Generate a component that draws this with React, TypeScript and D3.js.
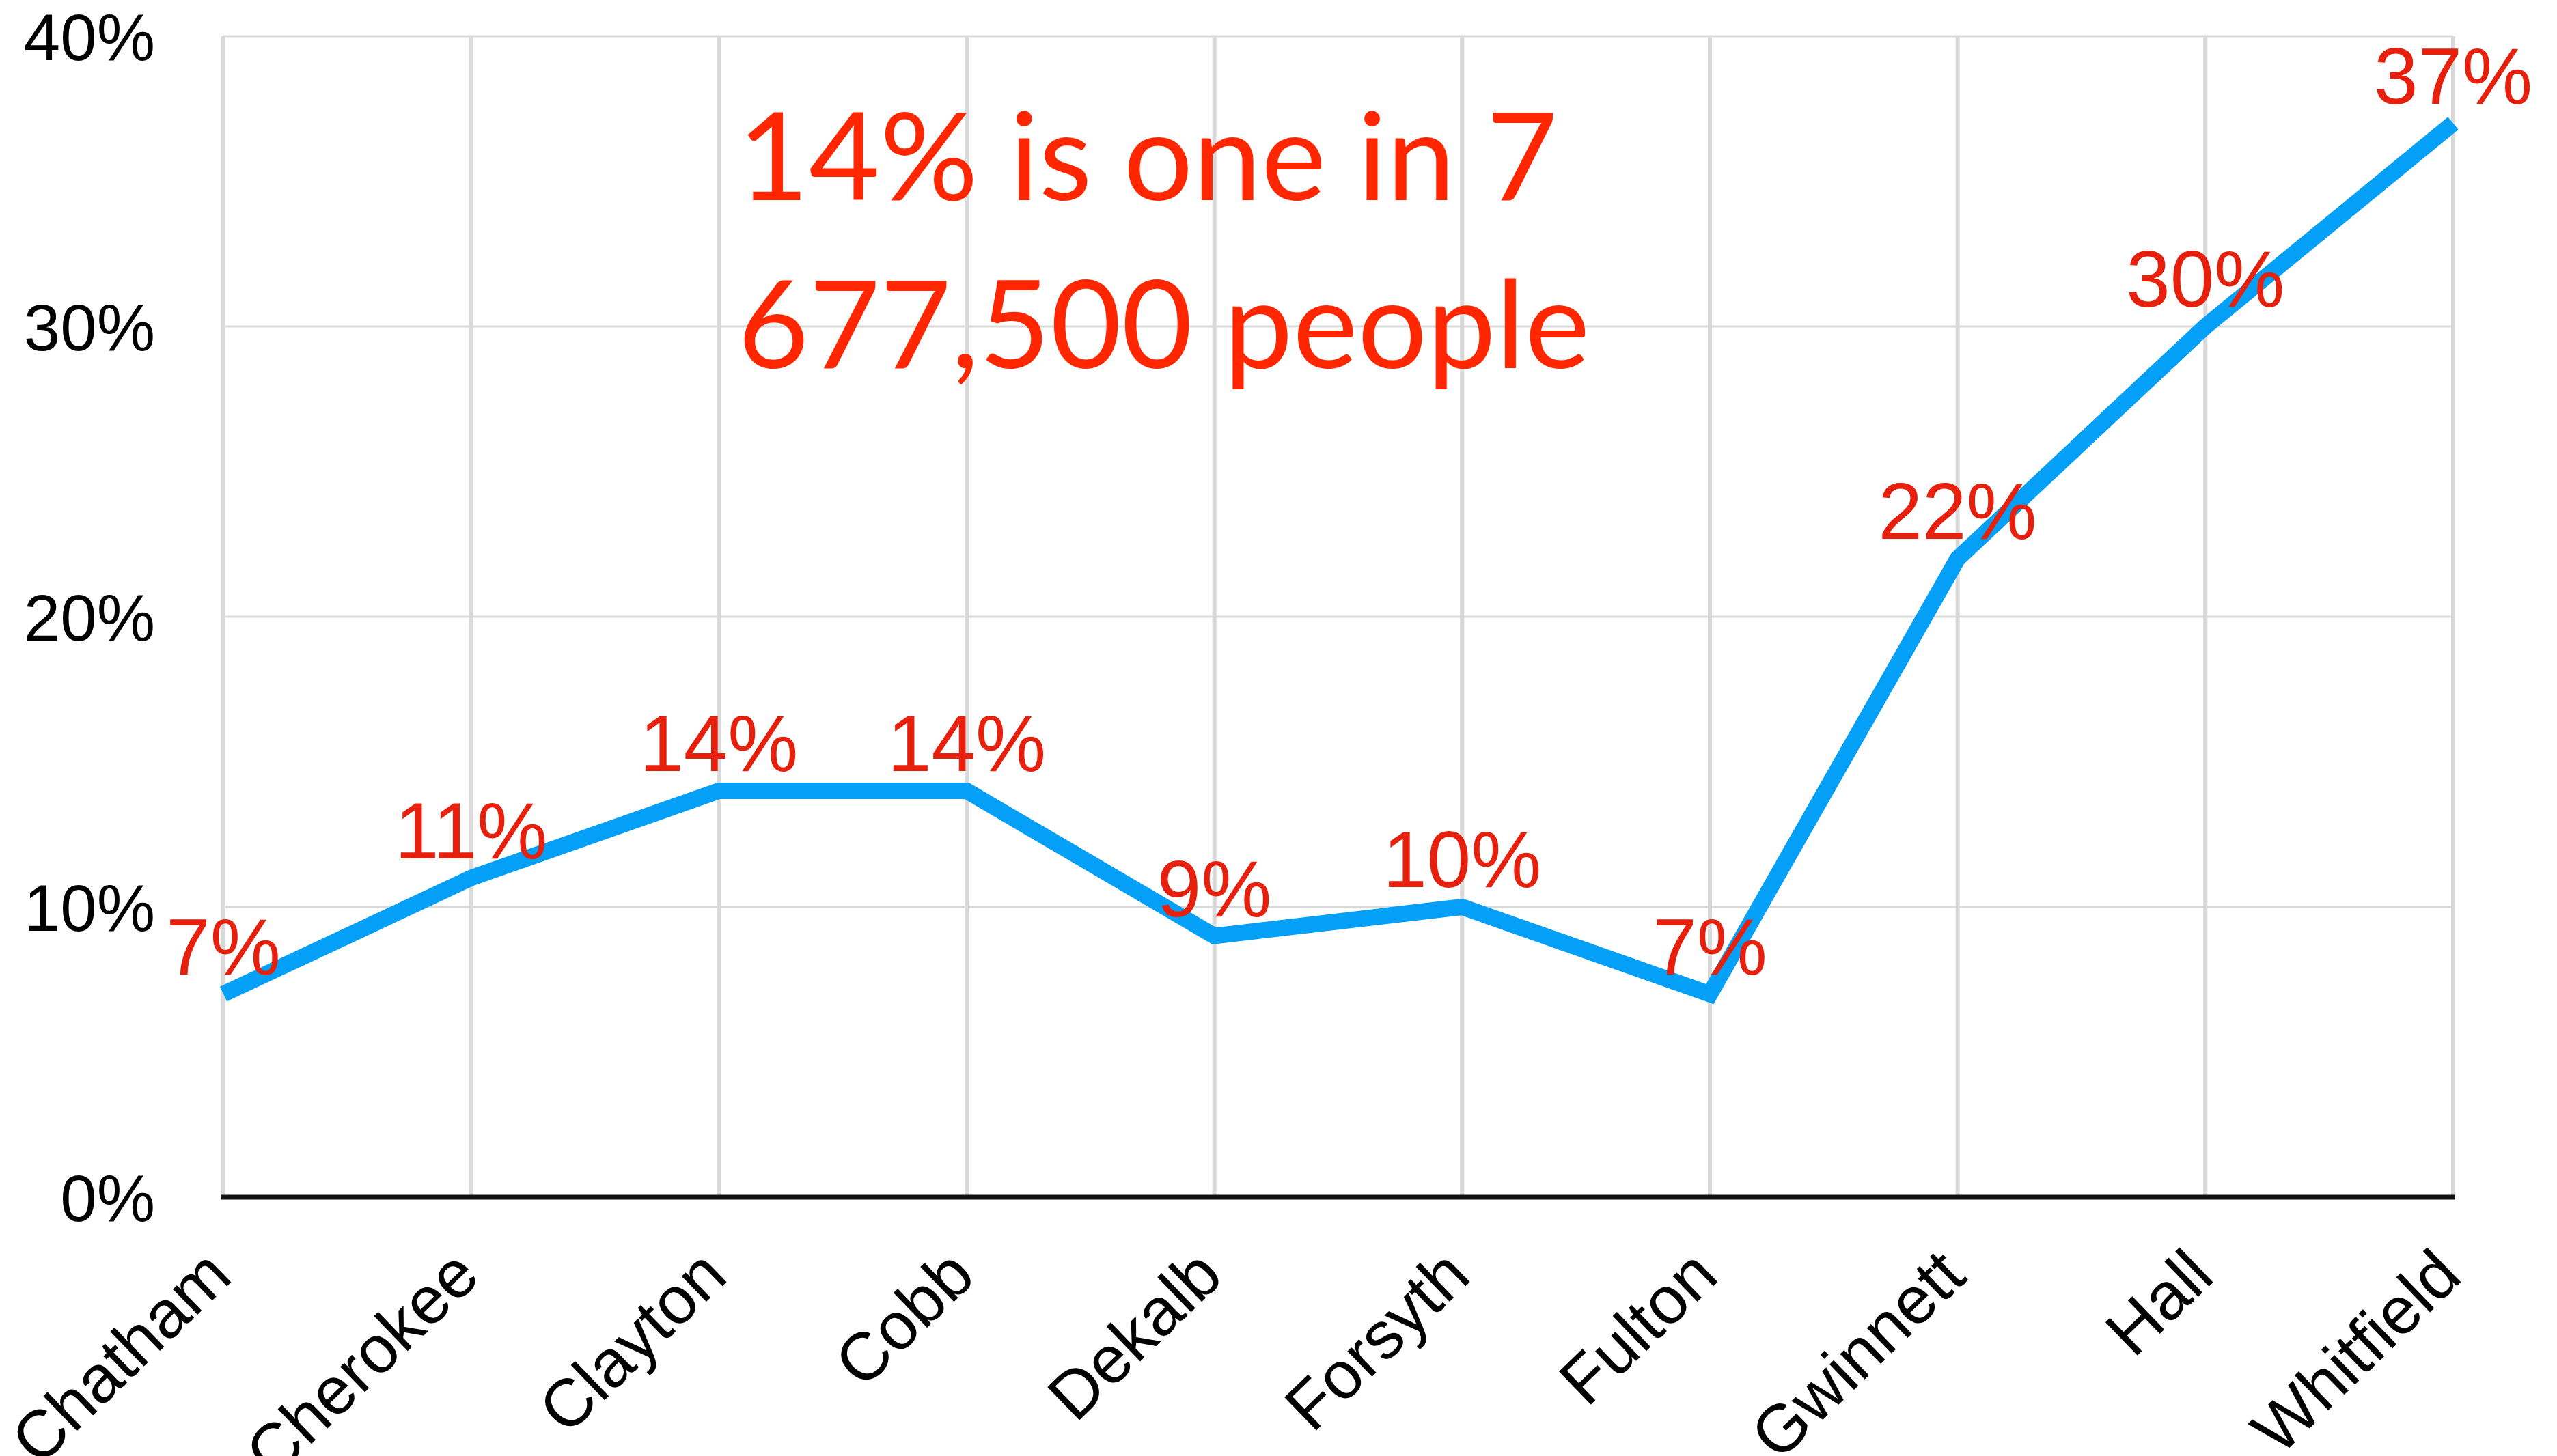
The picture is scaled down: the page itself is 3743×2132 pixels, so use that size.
import React from "react";
import * as d3 from "d3";

const counties = ["Chatham", "Cherokee", "Clayton", "Cobb", "Dekalb", "Forsyth", "Fulton", "Gwinnett", "Hall", "Whitfield"];
const shares = [7, 11, 14, 14, 9, 10, 7, 22, 30, 37];
const yTicks = [0, 10, 20, 30, 40];
const noteLines = ["14% is one in 7", "677,500 people"];

const W = 3743;
const H = 2132;
const left = 327;
const right = 3591;
const top = 53;
const bottom = 1753;

export default function App() {
  const x = d3.scalePoint<string>().domain(counties).range([left, right]);
  const y = d3.scaleLinear().domain([0, 40]).range([bottom, top]);
  const pts = counties.map((c, i) => ({ c, v: shares[i] }));
  const line = d3
    .line<{ c: string; v: number }>()
    .x((d) => x(d.c) as number)
    .y((d) => y(d.v));

  const sans = "'Liberation Sans', Arial, Helvetica, sans-serif";

  return (
    <svg
      width={W}
      height={H}
      viewBox={`0 0 ${W} ${H}`}
      style={{ position: "absolute", left: 0, top: 0, background: "#fff" }}
    >
      <rect x={0} y={0} width={W} height={H} fill="#fff" />
      {/* horizontal gridlines */}
      {yTicks
        .filter((t) => t > 0)
        .map((t) => (
          <line key={"h" + t} x1={left} x2={right} y1={y(t)} y2={y(t)} stroke="#d9d9d9" strokeWidth={3} />
        ))}
      {/* vertical gridlines */}
      {counties.map((c) => (
        <line key={"v" + c} x1={x(c)} x2={x(c)} y1={top} y2={bottom} stroke="#d9d9d9" strokeWidth={6} />
      ))}
      {/* x axis */}
      <line x1={left - 3} x2={right + 3} y1={y(0)} y2={y(0)} stroke="#111" strokeWidth={7} />
      {/* y tick labels */}
      {yTicks.map((t) => (
        <text
          key={"yl" + t}
          x={227}
          y={y(t)}
          dy="0.36em"
          textAnchor="end"
          fontFamily={sans}
          fontSize={96}
          fill="#000"
        >
          {t + "%"}
        </text>
      ))}
      {/* x tick labels */}
      {counties.map((c) => {
        const ax = (x(c) as number) + 16;
        const ay = y(0) + 120;
        return (
          <text
            key={"xl" + c}
            x={ax}
            y={ay}
            textAnchor="end"
            transform={`rotate(-44 ${ax} ${ay})`}
            fontFamily={sans}
            fontSize={98}
            fill="#000"
          >
            {c}
          </text>
        );
      })}
      {/* annotation */}
      {noteLines.map((s, i) => (
        <text
          key={"n" + i}
          x={1080}
          y={293 + i * 246}
          fontFamily="Lato, 'Open Sans', sans-serif"
          fontSize={178}
          fill="#ff2600"
          textLength={i === 0 ? 1200 : 1247}
          lengthAdjust="spacingAndGlyphs"
        >
          {s}
        </text>
      ))}
      {/* data line */}
      <path
        d={line(pts) || ""}
        fill="none"
        stroke="#049ff6"
        strokeWidth={24}
        strokeLinejoin="miter"
        strokeLinecap="butt"
      />
      {/* data labels */}
      {pts.map((d) => (
        <text
          key={"dl" + d.c}
          x={x(d.c)}
          y={y(d.v) - 29}
          textAnchor="middle"
          fontFamily={sans}
          fontSize={116}
          fill="#e6200c"
        >
          {d.v + "%"}
        </text>
      ))}
    </svg>
  );
}
